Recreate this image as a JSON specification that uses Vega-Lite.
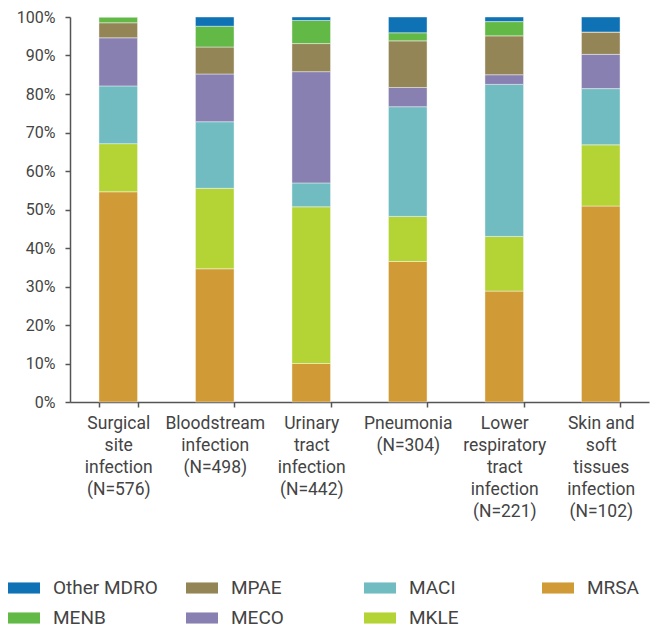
{
  "$schema": "https://vega.github.io/schema/vega-lite/v6.json",
  "width": 579,
  "height": 385,
  "autosize": "none",
  "padding": {"left": 70, "top": 17, "right": 4, "bottom": 228},
  "config": {
    "view": {"stroke": null},
    "font": "Roboto",
    "axis": {"labelFont": "Roboto", "labelColor": "#444", "domainColor": "#555", "tickColor": "#555", "domainWidth": 1.5, "tickWidth": 1.5, "grid": false, "title": null}
  },
  "data": {
    "values": [
      {"infection": "Surgical|site|infection|(N=576)", "pathogen": "MRSA", "pct": 54.6},
      {"infection": "Surgical|site|infection|(N=576)", "pathogen": "MKLE", "pct": 12.5},
      {"infection": "Surgical|site|infection|(N=576)", "pathogen": "MACI", "pct": 15.0},
      {"infection": "Surgical|site|infection|(N=576)", "pathogen": "MECO", "pct": 12.5},
      {"infection": "Surgical|site|infection|(N=576)", "pathogen": "MPAE", "pct": 3.9},
      {"infection": "Surgical|site|infection|(N=576)", "pathogen": "MENB", "pct": 1.5},
      {"infection": "Surgical|site|infection|(N=576)", "pathogen": "Other MDRO", "pct": 0},
      {"infection": "Bloodstream|infection|(N=498)", "pathogen": "MRSA", "pct": 34.6},
      {"infection": "Bloodstream|infection|(N=498)", "pathogen": "MKLE", "pct": 20.9},
      {"infection": "Bloodstream|infection|(N=498)", "pathogen": "MACI", "pct": 17.3},
      {"infection": "Bloodstream|infection|(N=498)", "pathogen": "MECO", "pct": 12.4},
      {"infection": "Bloodstream|infection|(N=498)", "pathogen": "MPAE", "pct": 7.0},
      {"infection": "Bloodstream|infection|(N=498)", "pathogen": "MENB", "pct": 5.4},
      {"infection": "Bloodstream|infection|(N=498)", "pathogen": "Other MDRO", "pct": 2.4},
      {"infection": "Urinary|tract|infection|(N=442)", "pathogen": "MRSA", "pct": 10.0},
      {"infection": "Urinary|tract|infection|(N=442)", "pathogen": "MKLE", "pct": 40.7},
      {"infection": "Urinary|tract|infection|(N=442)", "pathogen": "MACI", "pct": 6.2},
      {"infection": "Urinary|tract|infection|(N=442)", "pathogen": "MECO", "pct": 28.9},
      {"infection": "Urinary|tract|infection|(N=442)", "pathogen": "MPAE", "pct": 7.3},
      {"infection": "Urinary|tract|infection|(N=442)", "pathogen": "MENB", "pct": 6.0},
      {"infection": "Urinary|tract|infection|(N=442)", "pathogen": "Other MDRO", "pct": 0.9},
      {"infection": "Pneumonia|(N=304)", "pathogen": "MRSA", "pct": 36.5},
      {"infection": "Pneumonia|(N=304)", "pathogen": "MKLE", "pct": 11.7},
      {"infection": "Pneumonia|(N=304)", "pathogen": "MACI", "pct": 28.5},
      {"infection": "Pneumonia|(N=304)", "pathogen": "MECO", "pct": 5.0},
      {"infection": "Pneumonia|(N=304)", "pathogen": "MPAE", "pct": 12.1},
      {"infection": "Pneumonia|(N=304)", "pathogen": "MENB", "pct": 2.1},
      {"infection": "Pneumonia|(N=304)", "pathogen": "Other MDRO", "pct": 4.1},
      {"infection": "Lower|respiratory|tract|infection|(N=221)", "pathogen": "MRSA", "pct": 28.8},
      {"infection": "Lower|respiratory|tract|infection|(N=221)", "pathogen": "MKLE", "pct": 14.2},
      {"infection": "Lower|respiratory|tract|infection|(N=221)", "pathogen": "MACI", "pct": 39.5},
      {"infection": "Lower|respiratory|tract|infection|(N=221)", "pathogen": "MECO", "pct": 2.5},
      {"infection": "Lower|respiratory|tract|infection|(N=221)", "pathogen": "MPAE", "pct": 10.1},
      {"infection": "Lower|respiratory|tract|infection|(N=221)", "pathogen": "MENB", "pct": 3.7},
      {"infection": "Lower|respiratory|tract|infection|(N=221)", "pathogen": "Other MDRO", "pct": 1.2},
      {"infection": "Skin and|soft|tissues|infection|(N=102)", "pathogen": "MRSA", "pct": 50.9},
      {"infection": "Skin and|soft|tissues|infection|(N=102)", "pathogen": "MKLE", "pct": 15.9},
      {"infection": "Skin and|soft|tissues|infection|(N=102)", "pathogen": "MACI", "pct": 14.6},
      {"infection": "Skin and|soft|tissues|infection|(N=102)", "pathogen": "MECO", "pct": 8.9},
      {"infection": "Skin and|soft|tissues|infection|(N=102)", "pathogen": "MPAE", "pct": 5.8},
      {"infection": "Skin and|soft|tissues|infection|(N=102)", "pathogen": "MENB", "pct": 0},
      {"infection": "Skin and|soft|tissues|infection|(N=102)", "pathogen": "Other MDRO", "pct": 3.9}
    ]
  },
  "transform": [
    {"calculate": "indexof(['MRSA','MKLE','MACI','MECO','MPAE','MENB','Other MDRO'], datum.pathogen)", "as": "stackOrder"}
  ],
  "mark": {"type": "bar", "stroke": "white", "strokeWidth": 0.6, "strokeOpacity": 0.7},
  "encoding": {
    "x": {
      "field": "infection",
      "type": "nominal",
      "sort": null,
      "scale": {"paddingInner": 0.6, "paddingOuter": 0.3},
      "axis": {
        "labelAngle": 0,
        "labelExpr": "split(datum.label, '|')",
        "labelFontSize": 17.5,
        "labelLineHeight": 22,
        "labelPadding": 7,
        "tickBand": "extent",
        "tickSize": 5,
        "labelLimit": 200,
        "labelOverlap": false
      }
    },
    "y": {
      "field": "pct",
      "type": "quantitative",
      "stack": "normalize",
      "scale": {"domain": [0, 1], "nice": false},
      "axis": {"format": ".0%", "values": [0,0.1,0.2,0.3,0.4,0.5,0.6,0.7,0.8,0.9,1], "labelFontSize": 16, "tickSize": 5, "labelPadding": 10, "labelOverlap": false}
    },
    "order": {"field": "stackOrder", "type": "quantitative"},
    "color": {
      "field": "pathogen",
      "type": "nominal",
      "scale": {
        "domain": ["Other MDRO", "MPAE", "MACI", "MRSA", "MENB", "MECO", "MKLE"],
        "range": ["#0e72b5", "#948557", "#71bcc1", "#d09b36", "#62b946", "#8880b0", "#b4d335"]
      },
      "legend": {
        "title": null,
        "orient": "none",
        "legendX": -57,
        "legendY": 560,
        "direction": "horizontal",
        "columns": 4,
        "gridAlign": "all",
        "columnPadding": 28,
        "rowPadding": 9,
        "symbolType": "M-1.5,-0.52L1.5,-0.52L1.5,0.52L-1.5,0.52Z",
        "symbolSize": 455,
        "symbolStrokeWidth": 0,
        "labelFont": "Roboto",
        "labelFontSize": 19,
        "labelColor": "#444",
        "labelOffset": 18
      }
    }
  }
}
